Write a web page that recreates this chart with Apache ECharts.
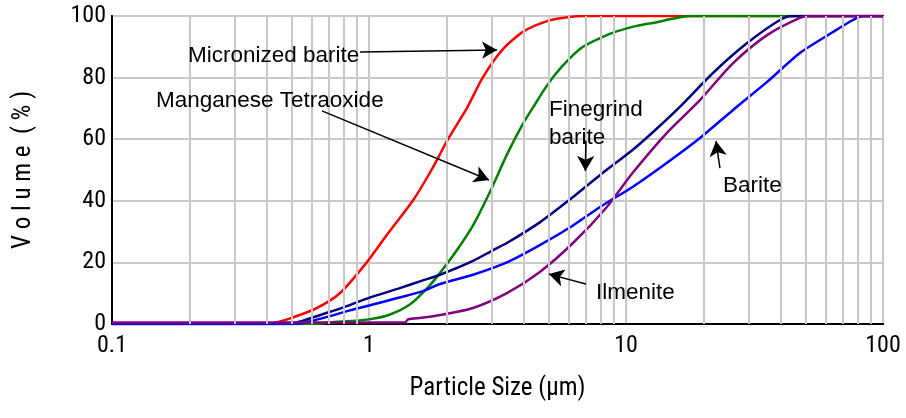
<!DOCTYPE html>
<html><head><meta charset="utf-8">
<script src="https://cdn.jsdelivr.net/npm/echarts@6/dist/echarts.min.js"></script>
<style>html,body{margin:0;padding:0;background:#fff}#c{width:906px;height:418px}</style>
</head><body><div id="c"></div>
<script>
// Particle size (µm) / cumulative volume (%) pairs
const micronizedX = [0.1, 0.4, 0.45, 0.5, 0.62, 0.77, 0.98, 1.2, 1.48, 1.75, 2.03, 2.4, 2.77, 3.3, 4, 5, 6, 7, 100];
const micronizedY = [0, 0, 0.8, 2, 5, 10, 20, 30, 40, 50, 60, 70, 80, 89, 95, 98.5, 99.7, 100, 100];

const manganeseX = [0.1, 0.62, 0.7, 0.85, 1.0, 1.2, 1.45, 1.7, 1.89, 2.2, 2.54, 2.96, 3.44, 3.97, 4.4, 4.8, 5.3, 6, 6.8, 8, 9.2, 11, 13.2, 15, 17.8, 100];
const manganeseY = [0, 0, 0.5, 1, 1.5, 3, 6.5, 12, 16.6, 24, 32, 43, 55, 65, 71, 76, 81, 86, 90, 93, 95, 96.8, 98, 99, 100, 100];

const finegrindX = [0.1, 0.48, 0.55, 0.65, 0.8, 1.0, 1.3, 1.6, 1.89, 2.54, 3.04, 3.44, 4.62, 6.22, 7.93, 10.6, 13, 16.2, 21.8, 29.6, 39.7, 44.3, 100];
const finegrindY = [0, 0, 1, 3, 5.5, 8.5, 11.5, 14, 16, 20.5, 24, 26.3, 33, 41.2, 48.4, 56.5, 63, 70.5, 81.5, 91.2, 98.7, 100, 100];

const bariteX = [0.1, 0.52, 0.6, 0.7, 0.85, 1.0, 1.3, 1.6, 1.89, 2.54, 3.44, 4.62, 6.22, 7.93, 10.6, 14.4, 19.4, 26.1, 35.4, 47.5, 63.9, 76.4, 83.6, 100];
const bariteY = [0, 0, 1, 2.5, 4.5, 6, 8.5, 10.5, 13, 16, 20, 25.6, 32, 38, 44.5, 52.3, 60.4, 69.5, 78.6, 88, 94.8, 98.7, 100, 100];

const ilmeniteX = [0.1, 1.38, 1.42, 1.6, 1.89, 2.54, 3.44, 4.62, 6.22, 8.43, 10.6, 14.4, 19.4, 26.1, 35.4, 47.5, 52, 100];
const ilmeniteY = [0.5, 0.5, 1.5, 2, 2.9, 5.2, 10, 16.9, 26.3, 38, 49, 62, 72.7, 84.7, 93.8, 99.4, 100, 100];

const xTicks = [0.1, 1, 10, 100];
const yTicks = [0, 20, 40, 60, 80, 100];
const minorGridX = [0.2,0.3,0.4,0.5,0.6,0.7,0.8,0.9,2,3,4,5,6,7,8,9,20,30,40,50,60,70,80,90];

// Annotation arrows: [fromX, fromY, toX, toY] in data units
const arrowMicronized = [0.923, 88.3, 3.15, 89];
const arrowManganese = [0.656, 69.2, 2.93, 46.75];
const arrowFinegrind = [6.98, 59.5, 6.95, 49.7];
const arrowBarite = [23.2, 50.6, 22.4, 59.4];
const arrowIlmenite = [6.98, 13, 5.01, 16.2];

const zip = (xs, ys) => xs.map((x, i) => [x, ys[i]]);
const arrow = a => [{coord: [a[0], a[1]], symbol: 'none'}, {coord: [a[2], a[3]], symbol: 'arrow'}];

const chart = echarts.init(document.getElementById('c'));
const tickFont = "'Roboto Condensed', 'Liberation Sans Narrow', sans-serif";
const annFont = "'Liberation Sans', Arial, sans-serif";
const lineSeries = (name, data, color) => ({
  name, type: 'line', data, showSymbol: false, smooth: 0.25, z: 3,
  lineStyle: {color, width: 2.5}, itemStyle: {color}, animation: false
});
const ann = (text, left, top, extra) => ({type: 'text', left, top, z: 10,
  style: Object.assign({text, fontFamily: annFont, fontSize: 22.5, fill: '#000'}, extra || {})});

chart.setOption({
  animation: false,
  grid: {left: 112, top: 16, right: 23, bottom: 94, show: true, borderColor: '#000', borderWidth: 2, backgroundColor: 'transparent'},
  xAxis: {
    type: 'log', logBase: 10, min: 0.1, max: 100,
    name: 'Particle Size (µm)', nameLocation: 'middle', nameGap: 52,
    nameTextStyle: {fontFamily: tickFont, fontSize: 25, color: '#000'},
    axisLine: {show: true, lineStyle: {color: '#000', width: 2}},
    axisTick: {show: false},
    axisLabel: {color: '#000', fontFamily: tickFont, fontSize: 24, margin: 10,
      formatter: v => { const t = xTicks.find(k => Math.abs(k - v) / k < 1e-6); return t === undefined ? '' : String(t); }},
    splitLine: {show: true, lineStyle: {color: '#c8c8c8', width: 2}}
  },
  yAxis: {
    type: 'value', min: 0, max: 100, interval: 20,
    name: 'V o l u m e  ( % )', nameLocation: 'middle', nameGap: 76, nameRotate: 90,
    nameTextStyle: {fontFamily: tickFont, fontSize: 25, color: '#000'},
    axisLine: {show: true, lineStyle: {color: '#000', width: 2}},
    axisTick: {show: false},
    axisLabel: {color: '#000', fontFamily: tickFont, fontSize: 24, margin: 6,
      formatter: v => yTicks.includes(v) ? String(v) : ''},
    splitLine: {show: true, lineStyle: {color: '#c8c8c8', width: 2}}
  },
  series: [
    {
      type: 'line', data: [], z: 1, silent: true,
      markLine: {silent: true, symbol: 'none', label: {show: false}, animation: false,
        lineStyle: {color: '#c8c8c8', width: 2, type: 'solid'},
        data: minorGridX.map(v => ({xAxis: v}))}
    },
    lineSeries('Micronized barite', zip(micronizedX, micronizedY), '#ff0000'),
    lineSeries('Manganese Tetraoxide', zip(manganeseX, manganeseY), '#008000'),
    lineSeries('Finegrind barite', zip(finegrindX, finegrindY), '#000080'),
    lineSeries('Barite', zip(bariteX, bariteY), '#0000ff'),
    lineSeries('Ilmenite', zip(ilmeniteX, ilmeniteY), '#800080'),
    {
      type: 'line', data: [], z: 5, silent: true,
      markLine: {silent: true, symbolSize: [13, 15], label: {show: false}, animation: false,
        lineStyle: {color: '#000', width: 1.5, type: 'solid'},
        itemStyle: {color: '#000'},
        data: [arrow(arrowMicronized), arrow(arrowManganese), arrow(arrowFinegrind), arrow(arrowBarite), arrow(arrowIlmenite)]}
    }
  ],
  graphic: [
    ann('Micronized barite', 188, 44),
    ann('Manganese Tetraoxide', 156, 89),
    ann('Finegrind\nbarite', 549, 96, {lineHeight: 28}),
    ann('Barite', 723, 174),
    ann('Ilmenite', 596, 281)
  ]
});
</script></body></html>
